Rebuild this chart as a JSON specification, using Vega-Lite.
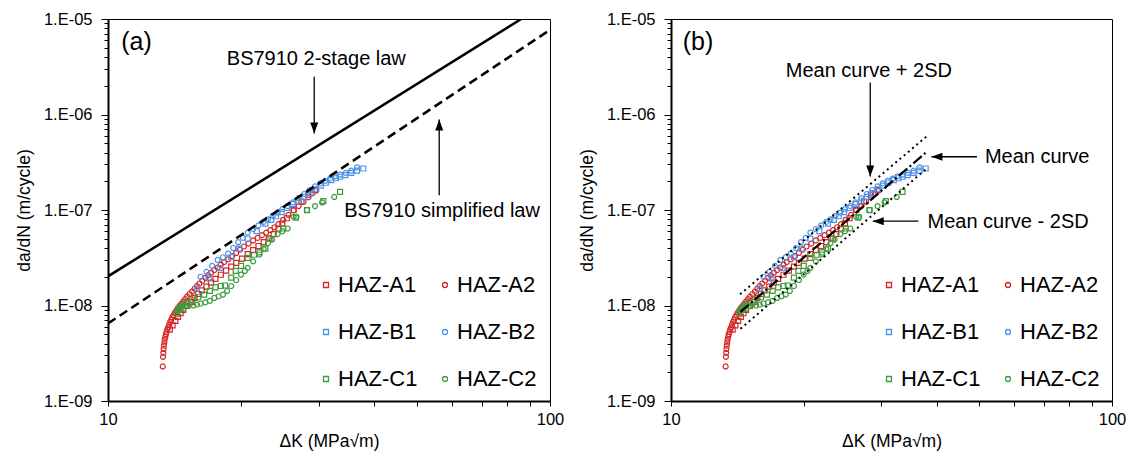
{
  "$schema": "https://vega.github.io/schema/vega-lite/v6.json",
  "padding": {"left": 14, "top": 10, "right": 5, "bottom": 5},
  "datasets": {
    "haz": [
      {"s":"HAZ-A1","K":13.8,"r":5.6e-9},{"s":"HAZ-A1","K":14.0,"r":6.2e-9},{"s":"HAZ-A1","K":14.2,"r":6.9e-9},{"s":"HAZ-A1","K":14.4,"r":7.6e-9},{"s":"HAZ-A1","K":14.6,"r":8.3e-9},{"s":"HAZ-A1","K":14.8,"r":9.0e-9},{"s":"HAZ-A1","K":15.1,"r":9.9e-9},{"s":"HAZ-A1","K":15.4,"r":1.09e-8},{"s":"HAZ-A1","K":15.7,"r":1.2e-8},{"s":"HAZ-A1","K":16.0,"r":1.32e-8},{"s":"HAZ-A1","K":16.3,"r":1.44e-8},{"s":"HAZ-A1","K":16.7,"r":1.58e-8},{"s":"HAZ-A1","K":17.1,"r":1.74e-8},{"s":"HAZ-A1","K":17.5,"r":1.9e-8},{"s":"HAZ-A1","K":18.0,"r":2.1e-8},{"s":"HAZ-A1","K":18.5,"r":2.32e-8},{"s":"HAZ-A1","K":19.0,"r":2.55e-8},{"s":"HAZ-A1","K":19.5,"r":2.8e-8},{"s":"HAZ-A1","K":20.1,"r":3.1e-8},{"s":"HAZ-A1","K":20.7,"r":3.45e-8},{"s":"HAZ-A1","K":21.3,"r":3.8e-8},{"s":"HAZ-A1","K":21.9,"r":4.2e-8},{"s":"HAZ-A1","K":22.5,"r":4.6e-8},{"s":"HAZ-A1","K":23.1,"r":5.05e-8},{"s":"HAZ-A1","K":23.7,"r":5.6e-8},{"s":"HAZ-A1","K":24.3,"r":6.4e-8},{"s":"HAZ-A1","K":24.8,"r":7.2e-8},{"s":"HAZ-A1","K":25.4,"r":8.2e-8},{"s":"HAZ-A1","K":26.3,"r":1.0e-7},{"s":"HAZ-A1","K":27.4,"r":1.22e-7},{"s":"HAZ-A1","K":28.4,"r":1.45e-7},{"s":"HAZ-A1","K":29.4,"r":1.62e-7},
      {"s":"HAZ-A2","K":13.3,"r":2.3e-9},{"s":"HAZ-A2","K":13.32,"r":2.9e-9},{"s":"HAZ-A2","K":13.34,"r":3.2e-9},{"s":"HAZ-A2","K":13.36,"r":3.5e-9},{"s":"HAZ-A2","K":13.38,"r":3.8e-9},{"s":"HAZ-A2","K":13.41,"r":4.1e-9},{"s":"HAZ-A2","K":13.44,"r":4.4e-9},{"s":"HAZ-A2","K":13.48,"r":4.7e-9},{"s":"HAZ-A2","K":13.52,"r":5.0e-9},{"s":"HAZ-A2","K":13.57,"r":5.3e-9},{"s":"HAZ-A2","K":13.62,"r":5.6e-9},{"s":"HAZ-A2","K":13.68,"r":5.9e-9},{"s":"HAZ-A2","K":13.75,"r":6.3e-9},{"s":"HAZ-A2","K":13.82,"r":6.7e-9},{"s":"HAZ-A2","K":13.9,"r":7.1e-9},{"s":"HAZ-A2","K":13.98,"r":7.5e-9},{"s":"HAZ-A2","K":14.07,"r":7.9e-9},{"s":"HAZ-A2","K":14.17,"r":8.4e-9},{"s":"HAZ-A2","K":14.28,"r":8.9e-9},{"s":"HAZ-A2","K":14.4,"r":9.4e-9},{"s":"HAZ-A2","K":14.52,"r":9.9e-9},{"s":"HAZ-A2","K":14.65,"r":1.04e-8},{"s":"HAZ-A2","K":14.8,"r":1.1e-8},{"s":"HAZ-A2","K":14.95,"r":1.17e-8},{"s":"HAZ-A2","K":15.1,"r":1.24e-8},{"s":"HAZ-A2","K":15.3,"r":1.32e-8},{"s":"HAZ-A2","K":15.5,"r":1.4e-8},{"s":"HAZ-A2","K":15.7,"r":1.5e-8},{"s":"HAZ-A2","K":15.9,"r":1.6e-8},{"s":"HAZ-A2","K":16.1,"r":1.7e-8},{"s":"HAZ-A2","K":16.35,"r":1.82e-8},{"s":"HAZ-A2","K":16.6,"r":1.95e-8},{"s":"HAZ-A2","K":16.85,"r":2.08e-8},{"s":"HAZ-A2","K":17.1,"r":2.2e-8},{"s":"HAZ-A2","K":17.4,"r":2.35e-8},{"s":"HAZ-A2","K":17.7,"r":2.5e-8},{"s":"HAZ-A2","K":18.0,"r":2.68e-8},{"s":"HAZ-A2","K":18.3,"r":2.85e-8},{"s":"HAZ-A2","K":18.7,"r":3.05e-8},{"s":"HAZ-A2","K":19.1,"r":3.3e-8},{"s":"HAZ-A2","K":19.5,"r":3.55e-8},{"s":"HAZ-A2","K":19.9,"r":3.85e-8},{"s":"HAZ-A2","K":20.3,"r":4.15e-8},{"s":"HAZ-A2","K":20.8,"r":4.45e-8},{"s":"HAZ-A2","K":21.3,"r":4.8e-8},{"s":"HAZ-A2","K":21.8,"r":5.1e-8},{"s":"HAZ-A2","K":22.3,"r":5.45e-8},{"s":"HAZ-A2","K":22.8,"r":5.8e-8},{"s":"HAZ-A2","K":23.3,"r":6.15e-8},{"s":"HAZ-A2","K":23.8,"r":6.6e-8},{"s":"HAZ-A2","K":24.3,"r":7.1e-8},{"s":"HAZ-A2","K":24.9,"r":7.9e-8},{"s":"HAZ-A2","K":25.6,"r":8.9e-8},{"s":"HAZ-A2","K":26.3,"r":9.9e-8},{"s":"HAZ-A2","K":27.0,"r":1.1e-7},{"s":"HAZ-A2","K":27.7,"r":1.22e-7},{"s":"HAZ-A2","K":28.4,"r":1.36e-7},{"s":"HAZ-A2","K":29.0,"r":1.5e-7},{"s":"HAZ-A2","K":29.6,"r":1.6e-7},
      {"s":"HAZ-B1","K":15.9,"r":1.5e-8},{"s":"HAZ-B1","K":16.9,"r":1.92e-8},{"s":"HAZ-B1","K":17.9,"r":2.47e-8},{"s":"HAZ-B1","K":19.0,"r":3.2e-8},{"s":"HAZ-B1","K":19.8,"r":3.94e-8},{"s":"HAZ-B1","K":20.7,"r":5.0e-8},{"s":"HAZ-B1","K":21.7,"r":6.0e-8},{"s":"HAZ-B1","K":22.7,"r":7.2e-8},{"s":"HAZ-B1","K":23.4,"r":7.9e-8},{"s":"HAZ-B1","K":24.0,"r":8.6e-8},{"s":"HAZ-B1","K":24.7,"r":9.5e-8},{"s":"HAZ-B1","K":25.4,"r":1.05e-7},{"s":"HAZ-B1","K":26.2,"r":1.15e-7},{"s":"HAZ-B1","K":27.0,"r":1.25e-7},{"s":"HAZ-B1","K":27.8,"r":1.37e-7},{"s":"HAZ-B1","K":28.7,"r":1.5e-7},{"s":"HAZ-B1","K":29.5,"r":1.65e-7},{"s":"HAZ-B1","K":30.3,"r":1.8e-7},{"s":"HAZ-B1","K":31.1,"r":1.93e-7},{"s":"HAZ-B1","K":32.0,"r":2.06e-7},{"s":"HAZ-B1","K":32.8,"r":2.15e-7},{"s":"HAZ-B1","K":33.5,"r":2.23e-7},{"s":"HAZ-B1","K":34.4,"r":2.32e-7},{"s":"HAZ-B1","K":35.5,"r":2.45e-7},{"s":"HAZ-B1","K":36.6,"r":2.58e-7},{"s":"HAZ-B1","K":37.8,"r":2.72e-7},
      {"s":"HAZ-B2","K":16.2,"r":2.0e-8},{"s":"HAZ-B2","K":16.7,"r":2.25e-8},{"s":"HAZ-B2","K":17.2,"r":2.6e-8},{"s":"HAZ-B2","K":17.7,"r":3.0e-8},{"s":"HAZ-B2","K":18.2,"r":3.2e-8},{"s":"HAZ-B2","K":18.7,"r":3.5e-8},{"s":"HAZ-B2","K":19.2,"r":4.0e-8},{"s":"HAZ-B2","K":19.7,"r":4.6e-8},{"s":"HAZ-B2","K":20.2,"r":5.1e-8},{"s":"HAZ-B2","K":20.7,"r":5.8e-8},{"s":"HAZ-B2","K":21.3,"r":6.3e-8},{"s":"HAZ-B2","K":21.9,"r":6.9e-8},{"s":"HAZ-B2","K":22.5,"r":7.5e-8},{"s":"HAZ-B2","K":23.0,"r":8.0e-8},{"s":"HAZ-B2","K":23.6,"r":8.7e-8},{"s":"HAZ-B2","K":24.2,"r":9.4e-8},{"s":"HAZ-B2","K":24.8,"r":1.02e-7},{"s":"HAZ-B2","K":25.5,"r":1.1e-7},{"s":"HAZ-B2","K":26.2,"r":1.2e-7},{"s":"HAZ-B2","K":27.0,"r":1.33e-7},{"s":"HAZ-B2","K":27.8,"r":1.47e-7},{"s":"HAZ-B2","K":28.6,"r":1.62e-7},{"s":"HAZ-B2","K":29.4,"r":1.77e-7},{"s":"HAZ-B2","K":30.2,"r":1.9e-7},{"s":"HAZ-B2","K":31.0,"r":2.02e-7},{"s":"HAZ-B2","K":31.8,"r":2.13e-7},{"s":"HAZ-B2","K":32.6,"r":2.25e-7},{"s":"HAZ-B2","K":33.5,"r":2.35e-7},{"s":"HAZ-B2","K":34.5,"r":2.45e-7},{"s":"HAZ-B2","K":35.5,"r":2.58e-7},{"s":"HAZ-B2","K":36.6,"r":2.8e-7},
      {"s":"HAZ-C1","K":14.3,"r":8.2e-9},{"s":"HAZ-C1","K":14.45,"r":9.0e-9},{"s":"HAZ-C1","K":14.6,"r":9.6e-9},{"s":"HAZ-C1","K":14.8,"r":1.0e-8},{"s":"HAZ-C1","K":15.1,"r":1.08e-8},{"s":"HAZ-C1","K":15.5,"r":1.15e-8},{"s":"HAZ-C1","K":16.0,"r":1.22e-8},{"s":"HAZ-C1","K":16.5,"r":1.3e-8},{"s":"HAZ-C1","K":17.0,"r":1.42e-8},{"s":"HAZ-C1","K":17.5,"r":1.55e-8},{"s":"HAZ-C1","K":18.0,"r":1.6e-8},{"s":"HAZ-C1","K":18.4,"r":1.62e-8},{"s":"HAZ-C1","K":19.0,"r":1.96e-8},{"s":"HAZ-C1","K":19.45,"r":2.3e-8},{"s":"HAZ-C1","K":20.0,"r":2.6e-8},{"s":"HAZ-C1","K":20.7,"r":3.16e-8},{"s":"HAZ-C1","K":21.4,"r":3.4e-8},{"s":"HAZ-C1","K":22.0,"r":3.6e-8},{"s":"HAZ-C1","K":22.7,"r":3.94e-8},{"s":"HAZ-C1","K":23.3,"r":5.0e-8},{"s":"HAZ-C1","K":24.9,"r":6.4e-8},{"s":"HAZ-C1","K":26.6,"r":8.3e-8},{"s":"HAZ-C1","K":28.2,"r":9.95e-8},{"s":"HAZ-C1","K":30.7,"r":1.24e-7},{"s":"HAZ-C1","K":33.5,"r":1.55e-7},
      {"s":"HAZ-C2","K":14.35,"r":8.8e-9},{"s":"HAZ-C2","K":14.5,"r":9.5e-9},{"s":"HAZ-C2","K":14.65,"r":1.0e-8},{"s":"HAZ-C2","K":14.8,"r":9.2e-9},{"s":"HAZ-C2","K":15.0,"r":9.8e-9},{"s":"HAZ-C2","K":15.3,"r":1.02e-8},{"s":"HAZ-C2","K":15.6,"r":1.0e-8},{"s":"HAZ-C2","K":15.9,"r":1.02e-8},{"s":"HAZ-C2","K":16.2,"r":1.05e-8},{"s":"HAZ-C2","K":16.6,"r":1.08e-8},{"s":"HAZ-C2","K":17.0,"r":1.12e-8},{"s":"HAZ-C2","K":17.4,"r":1.2e-8},{"s":"HAZ-C2","K":17.8,"r":1.25e-8},{"s":"HAZ-C2","K":18.2,"r":1.3e-8},{"s":"HAZ-C2","K":18.6,"r":1.42e-8},{"s":"HAZ-C2","K":19.0,"r":1.6e-8},{"s":"HAZ-C2","K":19.5,"r":1.85e-8},{"s":"HAZ-C2","K":20.0,"r":2.11e-8},{"s":"HAZ-C2","K":20.4,"r":2.3e-8},{"s":"HAZ-C2","K":20.7,"r":2.48e-8},{"s":"HAZ-C2","K":21.3,"r":2.9e-8},{"s":"HAZ-C2","K":22.0,"r":3.42e-8},{"s":"HAZ-C2","K":22.5,"r":3.9e-8},{"s":"HAZ-C2","K":23.0,"r":4.5e-8},{"s":"HAZ-C2","K":23.5,"r":4.9e-8},{"s":"HAZ-C2","K":24.2,"r":5.6e-8},{"s":"HAZ-C2","K":24.8,"r":6.0e-8},{"s":"HAZ-C2","K":25.5,"r":6.4e-8},{"s":"HAZ-C2","K":26.3,"r":8.5e-8},{"s":"HAZ-C2","K":26.7,"r":8.5e-8},{"s":"HAZ-C2","K":28.2,"r":1.0e-7},{"s":"HAZ-C2","K":29.4,"r":1.1e-7},{"s":"HAZ-C2","K":30.5,"r":1.2e-7},{"s":"HAZ-C2","K":32.5,"r":1.37e-7}
    ],
    "lines": [
      {"p":"a","n":"BS7910 2-stage law","K":10,"r":2.02e-8},{"p":"a","n":"BS7910 2-stage law","K":86.1,"r":1e-5},
      {"p":"a","n":"BS7910 simplified law","K":10,"r":6.47e-9},{"p":"a","n":"BS7910 simplified law","K":100,"r":7.7e-6},
      {"p":"b","n":"Mean curve","K":14.37,"r":8.57e-9},{"p":"b","n":"Mean curve","K":38.0,"r":4.06e-7},
      {"p":"b","n":"Mean curve + 2SD","K":14.34,"r":1.31e-8},{"p":"b","n":"Mean curve + 2SD","K":38.06,"r":5.94e-7},
      {"p":"b","n":"Mean curve - 2SD","K":14.37,"r":5.7e-9},{"p":"b","n":"Mean curve - 2SD","K":38.0,"r":2.72e-7}
    ],
    "arrows": [
      {"p":"a","dir":"down","K":29.28,"r":6.32e-7,"K0":29.28,"r0":2.48e-6},
      {"p":"a","dir":"up","K":56.15,"r":8.89e-7,"K0":56.15,"r0":1.43e-7},
      {"p":"b","dir":"down","K":28.3,"r":2.24e-7,"K0":28.3,"r0":2.16e-6},
      {"p":"b","dir":"left","K":38.95,"r":3.61e-7,"K0":49.4,"r0":3.61e-7},
      {"p":"b","dir":"left","K":28.67,"r":7.63e-8,"K0":36.4,"r0":7.63e-8}
    ],
    "notes": [
      {"p":"a","label":"(a)","K":11.6,"r":5.79e-6},
      {"p":"a","label":"BS7910 2-stage law","K":29.6,"r":3.81e-6},
      {"p":"a","label":"BS7910 simplified law","K":57.0,"r":9.8e-8},
      {"p":"b","label":"(b)","K":11.51,"r":5.79e-6},
      {"p":"b","label":"Mean curve + 2SD","K":28.1,"r":2.88e-6},
      {"p":"b","label":"Mean curve","K":51.5,"r":3.61e-7},
      {"p":"b","label":"Mean curve - 2SD","K":38.16,"r":7.52e-8}
    ]
  },
  "hconcat": [
    {
      "width": 442,
      "height": 382,
      "encoding": {
        "x": {"field":"K","type":"quantitative","scale":{"type":"log","domain":[10,100]},
          "axis":{"title":"ΔK (MPa√m)","values":[10,20,30,40,50,60,70,80,90,100],"labelExpr":"(datum.value==10||datum.value==100) ? format(datum.value,'d') : ''","labelFlush":false,"labelOverlap":false,"tickSize":5,"labelPadding":5,"titlePadding":5}},
        "y": {"field":"r","type":"quantitative","scale":{"type":"log","domain":[1e-9,1e-5]},
          "axis":{"title":"da/dN (m/cycle)","values":[1e-9,2e-9,3e-9,4e-9,5e-9,6e-9,7e-9,8e-9,9e-9,1e-8,2e-8,3e-8,4e-8,5e-8,6e-8,7e-8,8e-8,9e-8,1e-7,2e-7,3e-7,4e-7,5e-7,6e-7,7e-7,8e-7,9e-7,1e-6,2e-6,3e-6,4e-6,5e-6,6e-6,7e-6,8e-6,9e-6,1e-5],
            "labelExpr":"abs(log(datum.value)/LN10 - round(log(datum.value)/LN10)) < 0.01 ? '1.E-0' + round(-log(datum.value)/LN10) : ''",
            "tickSize":{"condition":{"test":"abs(log(datum.value)/LN10 - round(log(datum.value)/LN10)) < 0.01","value":7},"value":4},
            "labelFlush":false,"labelOverlap":false,"labelPadding":9,"titlePadding":10}}
      },
      "layer": [
        {"data":{"name":"haz"},"mark":{"type":"point","filled":false,"size":25,"strokeWidth":1.2,"opacity":1},
          "encoding":{
            "color":{"field":"s","type":"nominal","title":null,"scale":{"domain":["HAZ-A1","HAZ-B1","HAZ-C1","HAZ-A2","HAZ-B2","HAZ-C2"],"range":["#d62728","#4c93e6","#3d9c3d","#d62728","#4c93e6","#3d9c3d"]}},
            "shape":{"field":"s","type":"nominal","title":null,"scale":{"domain":["HAZ-A1","HAZ-B1","HAZ-C1","HAZ-A2","HAZ-B2","HAZ-C2"],"range":["square","square","square","circle","circle","circle"]}}
          }},
        {"data":{"name":"lines"},"transform":[{"filter":"datum.n=='BS7910 2-stage law'"}],"mark":{"type":"line","color":"black","strokeWidth":2.5,"clip":true},"encoding":{}},
        {"data":{"name":"lines"},"transform":[{"filter":"datum.n=='BS7910 simplified law'"}],"mark":{"type":"line","color":"black","strokeWidth":2.5,"strokeDash":[9,5],"clip":true},"encoding":{}},
        {"data":{"name":"arrows"},"transform":[{"filter":"datum.p=='a'"}],"mark":{"type":"rule","color":"black","strokeWidth":1.3},"encoding":{"x2":{"field":"K0"},"y2":{"field":"r0"}}},
        {"data":{"name":"arrows"},"transform":[{"filter":"datum.p=='a' && datum.dir=='down'"}],"mark":{"type":"point","shape":"M-4,-11L4,-11L0,0Z","size":4,"filled":true,"color":"black","opacity":1,"strokeWidth":0},"encoding":{}},
        {"data":{"name":"arrows"},"transform":[{"filter":"datum.p=='a' && datum.dir=='up'"}],"mark":{"type":"point","shape":"M-4,11L4,11L0,0Z","size":4,"filled":true,"color":"black","opacity":1,"strokeWidth":0},"encoding":{}},
        {"data":{"name":"notes"},"transform":[{"filter":"datum.p=='a' && datum.label!='(a)'"}],"mark":{"type":"text","fontSize":20,"align":"center","baseline":"middle","color":"black"},"encoding":{"text":{"field":"label"}}},
        {"data":{"name":"notes"},"transform":[{"filter":"datum.label=='(a)'"}],"mark":{"type":"text","fontSize":25,"align":"center","baseline":"middle","color":"black"},"encoding":{"text":{"field":"label"}}}
      ]
    },
    {
      "width": 441,
      "height": 382,
      "encoding": {
        "x": {"field":"K","type":"quantitative","scale":{"type":"log","domain":[10,100]},
          "axis":{"title":"ΔK (MPa√m)","values":[10,20,30,40,50,60,70,80,90,100],"labelExpr":"(datum.value==10||datum.value==100) ? format(datum.value,'d') : ''","labelFlush":false,"labelOverlap":false,"tickSize":5,"labelPadding":5,"titlePadding":5}},
        "y": {"field":"r","type":"quantitative","scale":{"type":"log","domain":[1e-9,1e-5]},
          "axis":{"title":"da/dN (m/cycle)","values":[1e-9,2e-9,3e-9,4e-9,5e-9,6e-9,7e-9,8e-9,9e-9,1e-8,2e-8,3e-8,4e-8,5e-8,6e-8,7e-8,8e-8,9e-8,1e-7,2e-7,3e-7,4e-7,5e-7,6e-7,7e-7,8e-7,9e-7,1e-6,2e-6,3e-6,4e-6,5e-6,6e-6,7e-6,8e-6,9e-6,1e-5],
            "labelExpr":"abs(log(datum.value)/LN10 - round(log(datum.value)/LN10)) < 0.01 ? '1.E-0' + round(-log(datum.value)/LN10) : ''",
            "tickSize":{"condition":{"test":"abs(log(datum.value)/LN10 - round(log(datum.value)/LN10)) < 0.01","value":7},"value":4},
            "labelFlush":false,"labelOverlap":false,"labelPadding":9,"titlePadding":10}}
      },
      "layer": [
        {"data":{"name":"haz"},"mark":{"type":"point","filled":false,"size":25,"strokeWidth":1.2,"opacity":1},
          "encoding":{
            "color":{"field":"s","type":"nominal","title":null,"scale":{"domain":["HAZ-A1","HAZ-B1","HAZ-C1","HAZ-A2","HAZ-B2","HAZ-C2"],"range":["#d62728","#4c93e6","#3d9c3d","#d62728","#4c93e6","#3d9c3d"]}},
            "shape":{"field":"s","type":"nominal","title":null,"scale":{"domain":["HAZ-A1","HAZ-B1","HAZ-C1","HAZ-A2","HAZ-B2","HAZ-C2"],"range":["square","square","square","circle","circle","circle"]}}
          }},
        {"data":{"name":"lines"},"transform":[{"filter":"datum.n=='Mean curve + 2SD' || datum.n=='Mean curve - 2SD'"}],"mark":{"type":"line","color":"black","strokeWidth":2,"strokeDash":[2,3.5],"clip":true},"encoding":{"detail":{"field":"n"}}},
        {"data":{"name":"lines"},"transform":[{"filter":"datum.n=='Mean curve'"}],"mark":{"type":"line","color":"black","strokeWidth":2.2,"strokeDash":[11,3,2,3],"clip":true},"encoding":{}},
        {"data":{"name":"arrows"},"transform":[{"filter":"datum.p=='b'"}],"mark":{"type":"rule","color":"black","strokeWidth":1.3},"encoding":{"x2":{"field":"K0"},"y2":{"field":"r0"}}},
        {"data":{"name":"arrows"},"transform":[{"filter":"datum.p=='b' && datum.dir=='down'"}],"mark":{"type":"point","shape":"M-4,-11L4,-11L0,0Z","size":4,"filled":true,"color":"black","opacity":1,"strokeWidth":0},"encoding":{}},
        {"data":{"name":"arrows"},"transform":[{"filter":"datum.p=='b' && datum.dir=='left'"}],"mark":{"type":"point","shape":"M11,-4L11,4L0,0Z","size":4,"filled":true,"color":"black","opacity":1,"strokeWidth":0},"encoding":{}},
        {"data":{"name":"notes"},"transform":[{"filter":"datum.label=='Mean curve + 2SD'"}],"mark":{"type":"text","fontSize":20,"align":"center","baseline":"middle","color":"black"},"encoding":{"text":{"field":"label"}}},
        {"data":{"name":"notes"},"transform":[{"filter":"datum.label=='Mean curve' || datum.label=='Mean curve - 2SD'"}],"mark":{"type":"text","fontSize":20,"align":"left","baseline":"middle","color":"black"},"encoding":{"text":{"field":"label"}}},
        {"data":{"name":"notes"},"transform":[{"filter":"datum.label=='(b)'"}],"mark":{"type":"text","fontSize":25,"align":"center","baseline":"middle","color":"black"},"encoding":{"text":{"field":"label"}}}
      ]
    }
  ],
  "spacing": 12,
  "resolve": {"scale": {"color": "independent", "shape": "independent"}},
  "config": {
    "font": "Liberation Sans",
    "view": {"stroke": "black", "strokeWidth": 1},
    "axis": {"grid": false, "domainColor": "black", "domainWidth": 2, "tickColor": "black", "tickWidth": 1, "labelColor": "black", "labelFontSize": 16.5, "titleFontSize": 17.5, "titleFontWeight": "normal", "titleColor": "black", "labelFont": "Liberation Sans", "titleFont": "Liberation Sans"},
    "legend": {"orient": "none", "legendX": 207, "legendY": 255, "columns": 2, "labelFontSize": 22, "labelColor": "black", "labelFont": "Liberation Sans", "symbolSize": 25, "symbolStrokeWidth": 1.3, "rowPadding": 25, "columnPadding": 16, "labelOffset": 1, "padding": 0},
    "text": {"font": "Liberation Sans"}
  }
}
